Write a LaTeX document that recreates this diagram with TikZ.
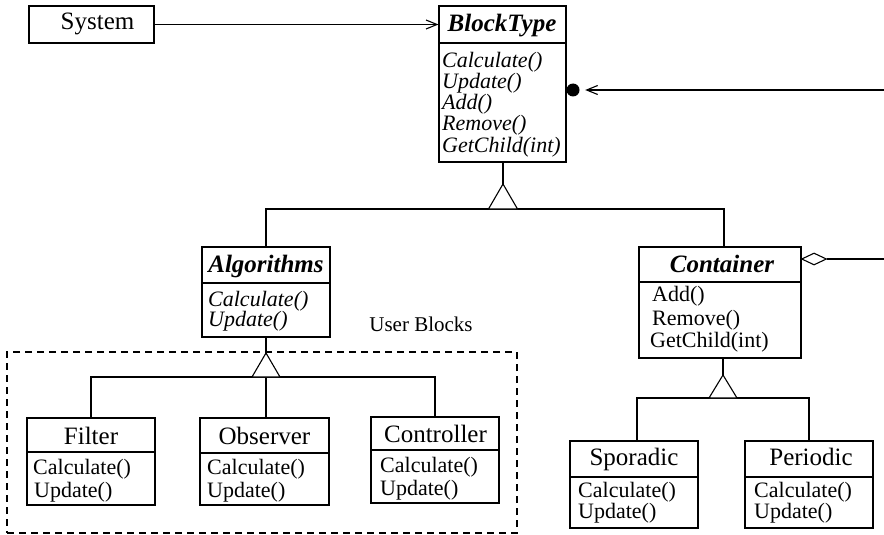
\documentclass[tikz,border=0pt]{standalone}
\usepackage{fontspec}
\setmainfont{Liberation Serif}
\usetikzlibrary{arrows.meta,fit,shapes.geometric}
\tikzset{
  lw/.style={line width=1.1pt},
  cls/.style={draw, lw, inner sep=0pt},
  nm/.style={font=\fontsize{25}{25}\selectfont, anchor=base, inner sep=0pt},
  absnm/.style={font=\fontsize{25}{25}\selectfont\bfseries\itshape, anchor=base, inner sep=0pt},
  mth/.style={font=\fontsize{22}{22}\selectfont, anchor=base west, inner sep=0pt},
  amth/.style={font=\fontsize{22}{22}\selectfont\itshape, anchor=base west, inner sep=0pt},
  conn/.style={lw},
  assoc/.style={lw, -{Straight Barb[length=11pt,width=9pt,line width=1.1pt]}},
  tri/.style={lw, fill=white},
  dotn/.style={circle, fill=black, inner sep=0pt, minimum size=13pt},
  dia/.style={diamond, draw, lw, fill=white, inner sep=0pt, minimum width=25pt, minimum height=12pt},
  grp/.style={draw, lw, dash pattern=on 7pt off 5pt, inner sep=0pt},
  lbl/.style={font=\fontsize{21}{21}\selectfont, anchor=base, inner sep=0pt}
}
\newcommand\umlbox[6]{%
  \coordinate (#1-nw) at (#2,#3);
  \coordinate (#1-se) at (#4,#5);
  \node[cls, fit=(#1-nw)(#1-se)] (#1) {};
  \draw[lw] (#2,#6) -- (#4,#6);
}
\begin{document}
\begin{tikzpicture}[x=1pt,y=-1pt]
\useasboundingbox (0,0) rectangle (884,535);

% dashed group
\coordinate (ub-nw) at (7,352);
\coordinate (ub-se) at (517,533);
\node[grp, fit=(ub-nw)(ub-se)] (ub) {};
\node[lbl] (ublabel) at (421,331) {User Blocks};

% System
\coordinate (sys-nw) at (29,6);
\coordinate (sys-se) at (154,43);
\node[cls, fit=(sys-nw)(sys-se)] (sys) {};
\node[nm] (sysname) at (97.5,30) {System};

% BlockType
\umlbox{bt}{439}{6}{566}{162}{43}
\node[absnm] (btname) at (502,32) {BlockType};
\node[amth] (bt1) at (442,67) {Calculate()};
\node[amth] (bt2) at (442,88.25) {Update()};
\node[amth] (bt3) at (442,109.5) {Add()};
\node[amth] (bt4) at (442,130.75) {Remove()};
\node[amth] (bt5) at (442,152) {GetChild(int)};

% Algorithms
\umlbox{alg}{202}{247}{330}{337}{283}
\node[absnm] (algname) at (266,272) {Algorithms};
\node[amth] (alg1) at (208,306) {Calculate()};
\node[amth] (alg2) at (208,326) {Update()};

% Container
\umlbox{cont}{639}{247}{801}{358}{282}
\node[absnm] (contname) at (722,272) {Container};
\node[mth] (cont1) at (652,301) {Add()};
\node[mth] (cont2) at (652,325) {Remove()};
\node[mth] (cont3) at (650,347) {GetChild(int)};

% Filter
\umlbox{fil}{27}{418}{155}{505}{452}
\node[nm] (filname) at (91,444) {Filter};
\node[mth] (fil1) at (33,474) {Calculate()};
\node[mth] (fil2) at (34,497) {Update()};

% Observer
\umlbox{obs}{200}{418}{329}{505}{453}
\node[nm] (obsname) at (264.5,444) {Observer};
\node[mth] (obs1) at (207,474) {Calculate()};
\node[mth] (obs2) at (207,497) {Update()};

% Controller
\umlbox{ctrl}{371}{417}{499}{503}{450}
\node[nm] (ctrlname) at (435.5,442) {Controller};
\node[mth] (ctrl1) at (380,472) {Calculate()};
\node[mth] (ctrl2) at (380,495) {Update()};

% Sporadic
\umlbox{spor}{570}{441}{698}{528}{477}
\node[nm] (sporname) at (634,465) {Sporadic};
\node[mth] (spor1) at (578,497) {Calculate()};
\node[mth] (spor2) at (578,518) {Update()};

% Periodic
\umlbox{per}{745}{441}{873}{528}{477}
\node[nm] (pername) at (811,465) {Periodic};
\node[mth] (per1) at (754,497) {Calculate()};
\node[mth] (per2) at (754,518) {Update()};

% System -> BlockType
\draw[assoc] (sys.east) -- (bt.west |- sys.east);

% external reference -> BlockType (dot)
\node[dotn] (dot) at (573,90) {};
\coordinate (rend) at (884,90);
\draw[assoc, shorten >=5.5pt] (rend) -- (dot.east);

% aggregation diamond on Container
\node[dia, anchor=west] (agg) at (801,259) {};
\coordinate (aend) at (884,259);
\draw[conn] (agg.east) -- (aend);

% generalization BlockType <- Algorithms, Container
\coordinate (t1a) at (503,184);
\coordinate (t1b) at (503,209);
\draw[conn] (t1a |- bt.south) -- (t1a);
\draw[conn] (alg.north) |- (t1b) -| ([xshift=4pt]cont.north);
\draw[tri] (t1a) -- ++(-14.5,25) -- ++(29,0) -- cycle;

% generalization Algorithms <- Filter, Observer, Controller
\coordinate (t2a) at (266,353);
\coordinate (t2b) at (266,377);
\draw[conn] (alg.south) -- (t2a);
\draw[conn] (fil.north) |- (t2b) -| (ctrl.north);
\draw[conn] (t2b) -- (t2b |- obs.north);
\draw[tri] (t2a) -- ++(-14,24) -- ++(28,0) -- cycle;

% generalization Container <- Sporadic, Periodic
\coordinate (t3a) at (723,375);
\coordinate (t3b) at (723,398);
\draw[conn] (t3a |- cont.south) -- (t3a);
\draw[conn] ([xshift=3pt]spor.north) |- (t3b) -| (per.north);
\draw[tri] (t3a) -- ++(-14,23) -- ++(28,0) -- cycle;
\end{tikzpicture}
\end{document}
